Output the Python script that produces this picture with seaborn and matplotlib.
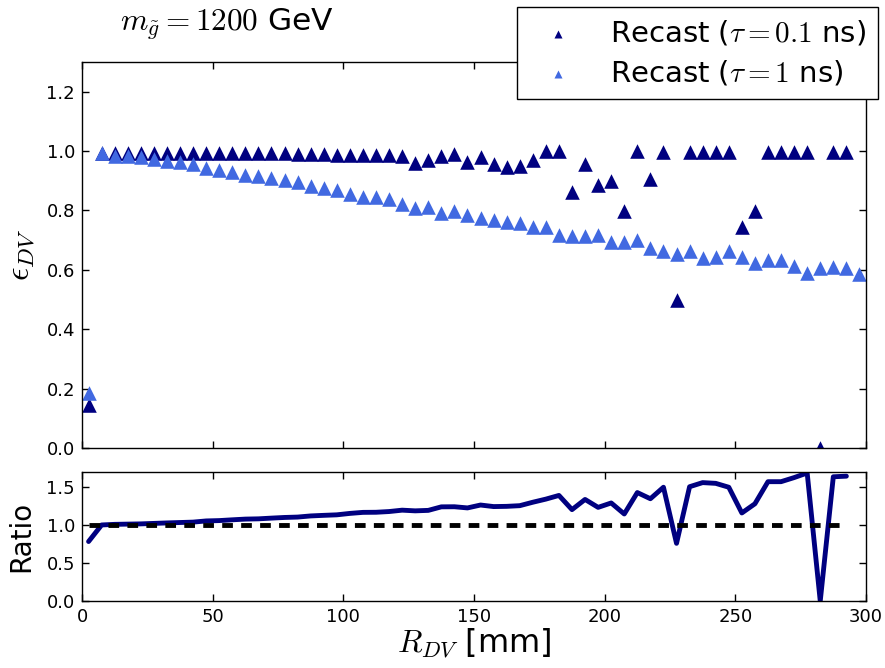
import numpy as np
import pandas as pd
import matplotlib
matplotlib.use("Agg")
import matplotlib.pyplot as plt
import seaborn as sns

# efficiency per R_DV bin (5 mm bins)
r_dv_short = np.arange(2.5, 295, 5)   # tau = 0.1 ns bins
r_dv_long = np.arange(2.5, 300, 5)    # tau = 1 ns bins
eff_short = [0.145, 0.995, 0.995, 0.995, 0.995, 0.995, 0.995, 0.995, 0.995, 0.995,
             0.993, 0.993, 0.993, 0.993, 0.993, 0.992, 0.990, 0.990, 0.990, 0.988,
             0.987, 0.987, 0.987, 0.988, 0.984, 0.960, 0.971, 0.984, 0.990, 0.963,
             0.979, 0.957, 0.948, 0.951, 0.971, 0.999, 0.999, 0.861, 0.957, 0.886,
             0.898, 0.797, 0.999, 0.907, 0.997, 0.497, 0.997, 0.997, 0.997, 0.997,
             0.746, 0.797, 0.997, 0.997, 0.997, 0.997, 0.0, 0.997, 0.997]
eff_long = [0.185, 0.993, 0.985, 0.982, 0.979, 0.973, 0.967, 0.962, 0.957, 0.943,
            0.937, 0.928, 0.920, 0.917, 0.909, 0.901, 0.895, 0.883, 0.877, 0.870,
            0.855, 0.845, 0.844, 0.838, 0.822, 0.808, 0.813, 0.793, 0.797, 0.785,
            0.774, 0.769, 0.760, 0.757, 0.746, 0.744, 0.718, 0.715, 0.715, 0.718,
            0.695, 0.695, 0.699, 0.673, 0.665, 0.654, 0.662, 0.639, 0.643, 0.665,
            0.643, 0.622, 0.634, 0.634, 0.613, 0.591, 0.606, 0.609, 0.606, 0.587]

label_short = r"Recast ($\tau = 0.1$ ns)"
label_long = r"Recast ($\tau = 1$ ns)"

df_short = pd.DataFrame({"r": r_dv_short, "eff": eff_short})
df_long = pd.DataFrame({"r": r_dv_long, "eff": eff_long})
n = len(r_dv_short)
df_ratio = pd.DataFrame({"r": r_dv_short,
                         "ratio": np.array(eff_short) / np.array(eff_long[:n])})

sns.set_style("ticks", {"xtick.direction": "in", "ytick.direction": "in",
                        "xtick.top": True, "ytick.right": True,
                        "axes.edgecolor": "black", "text.color": "black",
                        "axes.labelcolor": "black"})
plt.rcParams["mathtext.fontset"] = "cm"
plt.rcParams["font.family"] = ["DejaVu Sans"]
plt.rcParams["xtick.labelsize"] = 13
plt.rcParams["ytick.labelsize"] = 13

fig = plt.figure(figsize=(8.85, 6.68), dpi=100)
ax = fig.add_axes([0.0927, 0.3293, 0.8858, 0.5779])
axr = fig.add_axes([0.0927, 0.1003, 0.8858, 0.1931])

sns.scatterplot(data=df_short, x="r", y="eff", ax=ax, marker="^", s=110,
                color="navy", linewidth=0, label=label_short)
sns.scatterplot(data=df_long, x="r", y="eff", ax=ax, marker="^", s=110,
                color="royalblue", linewidth=0, label=label_long)
ax.set_xlim(0, 300)
ax.set_ylim(0, 1.3)
ax.set_yticks([0.0, 0.2, 0.4, 0.6, 0.8, 1.0, 1.2])
ax.set_xticks([0, 50, 100, 150, 200, 250, 300])
ax.set_xticklabels([])
ax.set_xlabel("")
ax.set_ylabel(r"$\epsilon_{DV}$", fontsize=24)
ax.legend(loc="upper right", bbox_to_anchor=(878 / 885, 1 - 7 / 668),
          bbox_transform=fig.transFigure, borderaxespad=0, fontsize=21,
          markerscale=0.55, frameon=True, fancybox=False, edgecolor="black",
          framealpha=1, handletextpad=0.8, borderpad=0.4, labelspacing=0.38)
ax.get_legend().get_frame().set_linewidth(1.0)

fig.text(120 / 885, 1 - 31 / 668, r"$m_{\tilde{g}} = 1200$ GeV", fontsize=22.5,
         color="black")

sns.lineplot(data=df_ratio, x="r", y="ratio", ax=axr, color="navy", linewidth=3.5)
axr.plot(r_dv_short[[0, -1]], [1, 1], color="black", linestyle="--",
         linewidth=3.5, dashes=(2.2, 1.7))
axr.set_xlim(0, 300)
axr.set_ylim(0, 1.7)
axr.set_yticks([0.0, 0.5, 1.0, 1.5])
axr.set_xticks([0, 50, 100, 150, 200, 250, 300])
axr.set_ylabel("Ratio", fontsize=20)
axr.set_xlabel(r"$R_{DV}$ [mm]", fontsize=23, labelpad=0)

for a in (ax, axr):
    a.tick_params(which="major", length=5, width=1, colors="black", pad=5)
    for sp in a.spines.values():
        sp.set_linewidth(1.0)
        sp.set_color("black")

ax.yaxis.set_label_coords(-0.057, 0.5)
axr.yaxis.set_label_coords(-0.06, 0.5)

fig.savefig("out.png", dpi=100)
